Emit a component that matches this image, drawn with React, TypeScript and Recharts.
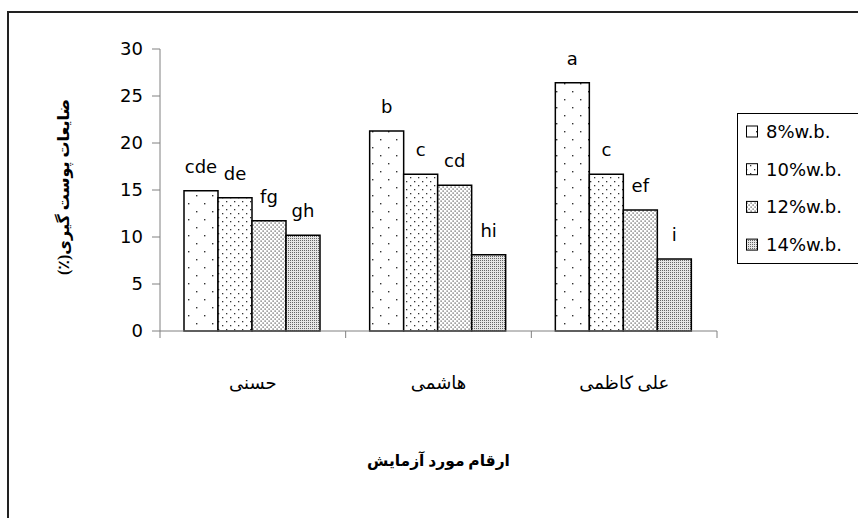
import React from 'react'
import { Bar, BarChart, Label, LabelList, XAxis, YAxis } from 'recharts'

const categories = ['حسنی', 'هاشمی', 'علی کاظمی']
const seriesNames = ['8%w.b.', '10%w.b.', '12%w.b.', '14%w.b.']
const values8 = [14.93, 21.28, 26.41]
const values10 = [14.18, 16.67, 16.67]
const values12 = [11.73, 15.5, 12.87]
const values14 = [10.18, 8.12, 7.66]
const letters8 = ['cde', 'b', 'a']
const letters10 = ['de', 'c', 'c']
const letters12 = ['fg', 'cd', 'ef']
const letters14 = ['gh', 'hi', 'i']
const yTicks = [0, 5, 10, 15, 20, 25, 30]
const yTitle = 'ضایعات پوست گیری(٪)'
const xTitle = 'ارقام مورد آزمایش'

const W = 858
const H = 518
const margin = { top: 49, right: 141, bottom: 0, left: 100 }
const yAxisWidth = 60
const xAxisHeight = 187
const band = (W - margin.left - margin.right - yAxisWidth) / categories.length

const axisGray = '#808080'
const latin = '"DejaVu Sans", Arial, sans-serif'
const persian = '"Liberation Serif", "DejaVu Sans", serif'

const data = categories.map((name, i) => ({
  name,
  v8: values8[i],
  v10: values10[i],
  v12: values12[i],
  v14: values14[i],
  l8: letters8[i],
  l10: letters10[i],
  l12: letters12[i],
  l14: letters14[i],
}))

const patternIds = ['p8', 'p10', 'p12', 'p14']
const series = [
  { key: 'v8', label: 'l8' },
  { key: 'v10', label: 'l10' },
  { key: 'v12', label: 'l12' },
  { key: 'v14', label: 'l14' },
]

const Patterns = () => (
  <svg width={0} height={0} style={{ position: 'absolute' }}>
    <defs>
      <pattern id="p8" width={16} height={16} patternUnits="userSpaceOnUse">
        <rect width={16} height={16} fill="#fff" />
        <rect x={4} y={3} width={1.4} height={1.4} fill="#333" />
        <rect x={12} y={11} width={1.4} height={1.4} fill="#333" />
      </pattern>
      <pattern id="p10" width={8} height={8} patternUnits="userSpaceOnUse">
        <rect width={8} height={8} fill="#fff" />
        <rect x={2} y={1} width={1.3} height={1.3} fill="#333" />
        <rect x={6} y={5} width={1.3} height={1.3} fill="#333" />
      </pattern>
      <pattern id="p12" width={4} height={4} patternUnits="userSpaceOnUse">
        <rect width={4} height={4} fill="#fff" />
        <rect x={0.5} y={0.5} width={1.2} height={1.2} fill="#444" />
        <rect x={2.5} y={2.5} width={1.2} height={1.2} fill="#444" />
      </pattern>
      <pattern id="p14" width={2} height={2} patternUnits="userSpaceOnUse">
        <rect width={2} height={2} fill="#e6e6e6" />
        <rect x={0} y={0} width={1} height={1} fill="#666" />
      </pattern>
    </defs>
  </svg>
)

const XTick = (props: any) => {
  const { x, y, payload, index } = props
  const half = payload && typeof payload.offset === 'number' && payload.offset > 0 ? payload.offset : band / 2
  return (
    <g>
      <line x1={x + half} x2={x + half} y1={y} y2={y + 7} stroke={axisGray} />
      {index === 0 && <line x1={x - half} x2={x - half} y1={y} y2={y + 7} stroke={axisGray} />}
      <text
        x={x}
        y={y + 52}
        textAnchor="middle"
        dominantBaseline="central"
        direction="rtl"
        fontFamily={persian}
        fontSize={18}
        fill="#000"
      >
        {payload.value}
      </text>
    </g>
  )
}

const YTitle = (props: any) => {
  const vb = props.viewBox
  const cx = vb.x - 37
  const cy = vb.y + vb.height / 2 - 3
  return (
    <text
      x={cx}
      y={cy}
      transform={`rotate(-90, ${cx}, ${cy})`}
      textAnchor="middle"
      dominantBaseline="central"
      direction="rtl"
      fontFamily={persian}
      fontWeight="bold"
      fontSize={16}
      fill="#000"
    >
      {yTitle}
    </text>
  )
}

const XTitle = (props: any) => {
  const vb = props.viewBox
  return (
    <text
      x={vb.x + vb.width / 2}
      y={vb.y + 129}
      textAnchor="middle"
      dominantBaseline="central"
      direction="rtl"
      fontFamily={persian}
      fontWeight="bold"
      fontSize={15.5}
      fill="#000"
    >
      {xTitle}
    </text>
  )
}

const LegendBox = () => (
  <svg width={W} height={H} style={{ position: 'absolute', left: 0, top: 0, pointerEvents: 'none' }}>
    <rect x={737.5} y={113.5} width={140} height={150} fill="#fff" stroke="#000" strokeWidth={1} />
    {seriesNames.map((name, i) => {
      const cy = 131.5 + i * 37.7
      return (
        <g key={name}>
          <rect x={746.5} y={cy - 5.5} width={11} height={11} fill={`url(#${patternIds[i]})`} stroke="#000" strokeWidth={1} />
          <text x={766} y={cy} dominantBaseline="central" fontFamily={latin} fontSize={18} fill="#000">
            {name}
          </text>
        </g>
      )
    })}
  </svg>
)

export default function App() {
  return (
    <div style={{ position: 'absolute', left: 0, top: 0, width: W, height: H, overflow: 'hidden', background: '#fff' }}>
      <Patterns />
      <div style={{ position: 'absolute', left: 7, top: 11, width: W + 20, height: H + 20, borderLeft: '2px solid #222', borderTop: '2px solid #222', boxSizing: 'border-box' }} />
      <div style={{ position: 'absolute', left: 0, top: 0 }}>
        <BarChart width={W} height={H} data={data} margin={margin} barCategoryGap={24} barGap={0}>
          <XAxis
            dataKey="name"
            height={xAxisHeight}
            interval={0}
            tickLine={false}
            tickSize={0}
            tickMargin={0}
            tick={<XTick />}
            axisLine={{ stroke: axisGray }}
          >
            <Label content={<XTitle />} />
          </XAxis>
          <YAxis
            width={yAxisWidth}
            domain={[0, 30]}
            ticks={yTicks}
            interval={0}
            tickSize={8}
            tickMargin={9}
            tickLine={{ stroke: axisGray }}
            axisLine={{ stroke: axisGray }}
            tick={{ fill: '#000', fontSize: 18, fontFamily: latin }}
          >
            <Label content={<YTitle />} />
          </YAxis>
          {series.map((s, i) => (
            <Bar
              key={s.key}
              dataKey={s.key}
              fill={`url(#${patternIds[i]})`}
              stroke="#000"
              strokeWidth={1.5}
              isAnimationActive={false}
            >
              <LabelList dataKey={s.label} position="top" offset={18} fill="#000" fontSize={18} fontFamily={latin} />
            </Bar>
          ))}
        </BarChart>
      </div>
      <LegendBox />
    </div>
  )
}
